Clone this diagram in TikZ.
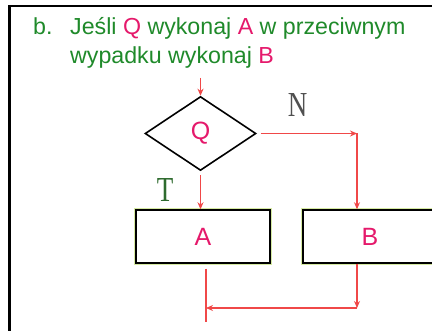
\documentclass[tikz,border=0pt]{standalone}
\usepackage{fontspec}
\setmainfont{Liberation Sans}
\newfontfamily\serifN{Liberation Serif}
\usetikzlibrary{shapes.geometric,arrows.meta}
\definecolor{titlegreen}{HTML}{1F8A2A}
\definecolor{pinkq}{HTML}{E5196B}
\definecolor{flowred}{HTML}{F04848}
\definecolor{glow}{HTML}{D6EAA2}
\definecolor{labN}{HTML}{505050}
\definecolor{labT}{HTML}{2E6B2E}
\tikzset{
  flow/.style={draw=flowred, line width=1.8pt},
  tip/.style={-{Stealth[length=7pt,width=6pt]}},
  procbox/.style={draw=black, line width=1.5pt, fill=white,
    preaction={draw=glow, line width=4.5pt},
    minimum width=134pt, minimum height=53pt, inner sep=0pt,
    text=pinkq, font=\fontsize{25}{25}\selectfont},
  decision/.style={diamond, draw=black, line width=1.6pt, fill=white,
    minimum width=111pt, minimum height=74pt, inner sep=0pt,
    text=pinkq, font=\fontsize{25}{25}\selectfont},
  title/.style={anchor=base west, inner sep=0pt, text=titlegreen,
    font=\fontsize{23.2}{23.2}\selectfont},
  letter/.style={inner sep=0pt, font=\serifN\fontsize{27}{27}\selectfont}
}
\begin{document}
\begin{tikzpicture}[x=1pt,y=-1pt]
\clip (0,0) rectangle (432,331);
\fill[white] (0,0) rectangle (432,331);
% frame
\draw[black, line width=2.2pt] (9.5,340) -- (9.5,6) -- (440,6);
% title
\node[title] (b) at (33,35) {b.};
\node[title] (l1) at (70,35) {Jeśli \textcolor{pinkq}{Q} wykonaj \textcolor{pinkq}{A} w przeciwnym};
\node[title] (l2) at (70,64) {wypadku wykonaj \textcolor{pinkq}{B}};
% shapes
\node[decision] (Q) at (200.5,133.5) {Q};
\node[procbox] (A) at (203,236.5) {A};
\node[procbox] (B) at (370,236.5) {B};
% labels
\node[letter, text=labN] (N) at (297.5,105.5) {\scalebox{1}[1.3]{N}};
\node[letter, text=labT] (T) at (165,190) {\scalebox{1}[1.3]{T}};
% coordinates
\coordinate (start) at (200.5,78);
\coordinate (c1) at (357,133.5);
\coordinate (c2) at (357,308);
\coordinate (j) at (206,308);
\coordinate (end) at (206,322);
% connectors
\draw[flow,tip] (start) -- (Q.north);
\draw[flow,tip,shorten <=4pt] (Q.east) -- (c1);
\draw[flow,tip] (c1) -- (c1 |- B.north);
\draw[flow,tip,shorten <=4pt] (Q.south) -- (Q.south |- A.north);
\draw[flow,tip] (c1 |- B.south) -- (c2);
\draw[flow,tip] (c2) -- (j);
\draw[flow,shorten <=5pt] (j |- A.south) -- (end);
\end{tikzpicture}
\end{document}
